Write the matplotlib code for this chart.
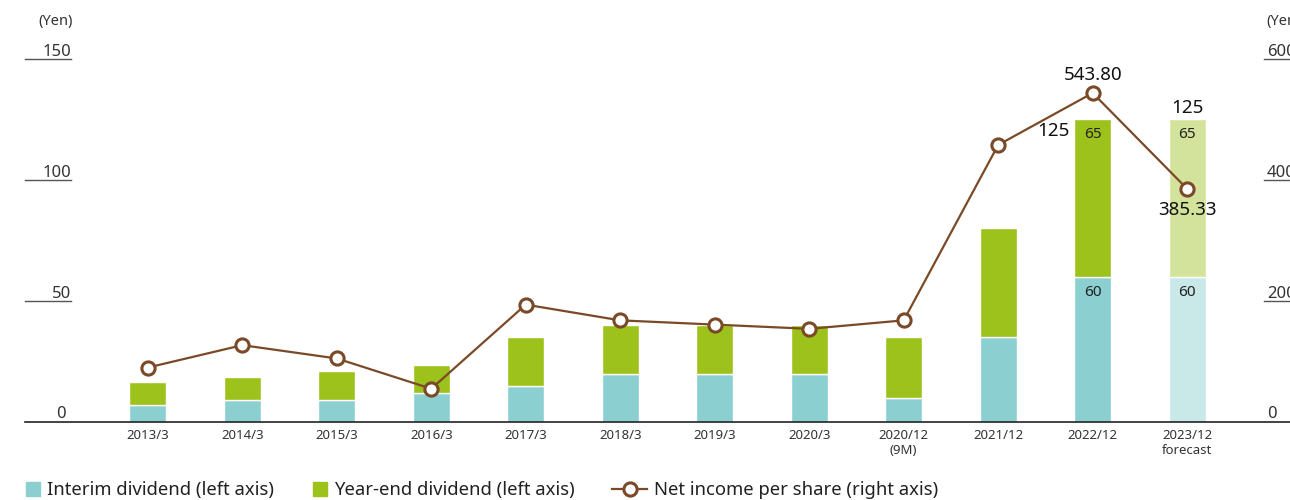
import matplotlib.pyplot as plt
from matplotlib.lines import Line2D
from matplotlib.patches import Patch
import matplotlib.transforms as mtransforms

plt.rcParams['font.family'] = ['Noto Sans', 'DejaVu Sans']

# donnees
periodes = ['2013/3', '2014/3', '2015/3', '2016/3', '2017/3', '2018/3',
            '2019/3', '2020/3', '2020/12\n(9M)', '2021/12', '2022/12',
            '2023/12\nforecast']
interim = [7, 9, 9, 12, 15, 20, 20, 20, 10, 35, 60, 60]
fin_annee = [9.5, 9.5, 12, 11.5, 20, 20, 20, 20, 25, 45, 65, 65]
bpa = [90, 127, 105, 55, 194, 168, 161, 154, 168, 458, 543.80, 385.33]
prevision = [False] * 11 + [True]

ticks_gauche = [50, 100, 150]
ticks_droite = [200, 400, 600]

c_interim = '#8bcfd0'
c_fin = '#9dc21c'
c_interim_prev = '#c9e8e8'
c_fin_prev = '#d3e39b'
c_ligne = '#7a4a28'
c_texte = '#333333'

fig = plt.figure(figsize=(12.9, 5), dpi=100)
ax = fig.add_axes([25 / 1290, 78 / 500, 1285 / 1290, 363 / 500])
ax2 = ax.twinx()

x = list(range(len(periodes)))
col_i = [c_interim_prev if p else c_interim for p in prevision]
col_f = [c_fin_prev if p else c_fin for p in prevision]
ax.bar(x, interim, width=0.39, color=col_i, edgecolor='white', linewidth=1)
ax.bar(x, fin_annee, bottom=interim, width=0.39, color=col_f,
       edgecolor='white', linewidth=1)

ax2.plot(x, bpa, color=c_ligne, lw=1.6, marker='o', ms=9.5,
         mfc='white', mec=c_ligne, mew=2.2, zorder=5, clip_on=False)

ax.set_xlim(-1.30, 12.30)
ax.set_ylim(0, 150)
ax2.set_ylim(0, 600)

for a in (ax, ax2):
    for s in ['top', 'left', 'right']:
        a.spines[s].set_visible(False)
    a.set_yticks([])
ax.spines['bottom'].set_color('#222222')
ax.spines['bottom'].set_linewidth(1.2)
ax2.spines['bottom'].set_visible(False)

ax.set_xticks(x)
ax.set_xticklabels(periodes, fontsize=9.5, color=c_texte, linespacing=1.2)
ax.tick_params(axis='x', length=0, pad=5)

# graduations soulignees, a gauche et a droite
tg = mtransforms.blended_transform_factory(ax.transAxes, ax.transData)
td = mtransforms.blended_transform_factory(ax2.transAxes, ax2.transData)
xg = 46 / 1285
xd = 1242 / 1285
for v in ticks_gauche:
    ax.plot([0, xg], [v, v], transform=tg, color='#555555', lw=1, clip_on=False)
    ax.text(xg, v - 0.3, str(v), transform=tg, ha='right', va='bottom',
            fontsize=12, color=c_texte)
ax.text(xg - 0.004, 0, '0', transform=tg, ha='right', va='bottom',
        fontsize=12, color=c_texte)
for v in ticks_droite:
    ax2.plot([xd - 0.002, 1.0], [v, v], transform=td, color='#555555', lw=1,
             clip_on=False)
    ax2.text(xd, v - 1, str(v), transform=td, ha='left', va='bottom',
             fontsize=12, color=c_texte)
ax2.text(xd, 0, '0', transform=td, ha='left', va='bottom',
         fontsize=12, color=c_texte)
fig.text(38 / 1290, 1 - 22 / 500, '(Yen)', fontsize=10.5, color=c_texte,
         va='center')
fig.text(1266 / 1290, 1 - 22 / 500, '(Yen)', fontsize=10.5, color=c_texte,
         va='center')

# etiquettes des barres
tot = [i + f for i, f in zip(interim, fin_annee)]
for k in (10, 11):
    ax.annotate(f'{interim[k]}', (k, interim[k]), xytext=(0, -11),
                textcoords='offset points', ha='center', va='center',
                fontsize=11, color='#222222')
    ax.annotate(f'{fin_annee[k]}', (k, tot[k]), xytext=(0, -11),
                textcoords='offset points', ha='center', va='center',
                fontsize=11, color='#222222')
ax.annotate(f'{tot[10]:g}', (10 - 0.2, tot[10]), xytext=(-3, -8),
            textcoords='offset points', ha='right', va='center',
            fontsize=13.5, color='#111111')
ax.annotate(f'{tot[11]:g}', (11, tot[11]), xytext=(0, 2),
            textcoords='offset points', ha='center', va='bottom',
            fontsize=13.5, color='#111111')
ax2.annotate(f'{bpa[10]:.2f}', (10, bpa[10]), xytext=(0, 13),
             textcoords='offset points', ha='center', va='center',
             fontsize=13.5, color='#111111')
ax2.annotate(f'{bpa[11]:.2f}', (11, bpa[11]), xytext=(0, -15),
             textcoords='offset points', ha='center', va='center',
             fontsize=13.5, color='#111111')

# legende
h1 = [Patch(color=c_interim)]
h2 = [Patch(color=c_fin)]
h3 = [Line2D([], [], color=c_ligne, lw=1.6, marker='o', ms=9.5,
             mfc='white', mec=c_ligne, mew=2.2)]
opts = dict(frameon=False, fontsize=13.3, loc='center left', borderpad=0,
            borderaxespad=0, handletextpad=0.35, labelcolor='#222222')
l1 = fig.legend(h1, ['Interim dividend (left axis)'], handlelength=0.78,
                handleheight=0.78, bbox_to_anchor=(26 / 1290, 1 - 490 / 500),
                **opts)
l2 = fig.legend(h2, ['Year-end dividend (left axis)'], handlelength=0.78,
                handleheight=0.78, bbox_to_anchor=(313 / 1290, 1 - 490 / 500),
                **opts)
l3 = fig.legend(h3, ['Net income per share (right axis)'], handlelength=1.9,
                bbox_to_anchor=(612 / 1290, 1 - 490 / 500), **opts)

plt.savefig('out.png', dpi=100)
